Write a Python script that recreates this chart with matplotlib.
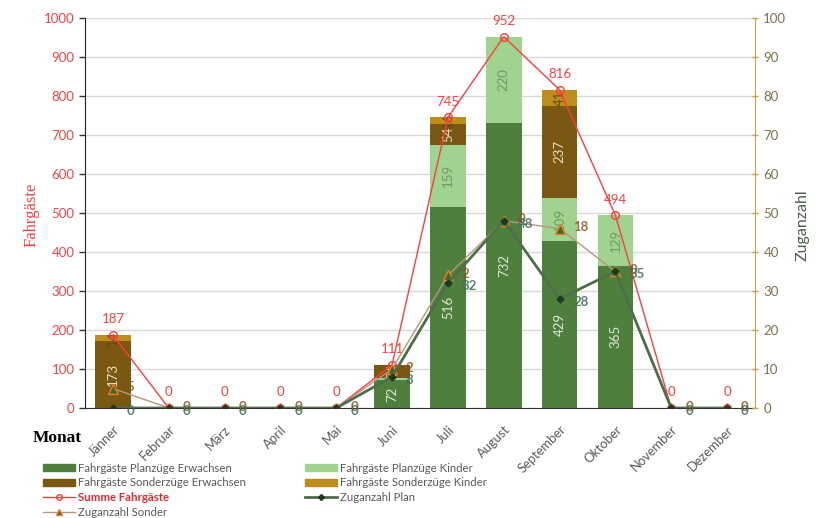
import numpy as np
import matplotlib
matplotlib.use("Agg")
import matplotlib.pyplot as plt
from matplotlib.patches import Patch
from matplotlib.lines import Line2D

monate = ["Jänner", "Februar", "März", "April", "Mai", "Juni", "Juli",
          "August", "September", "Oktober", "November", "Dezember"]

plan_erw = [0, 0, 0, 0, 0, 72, 516, 732, 429, 365, 0, 0]
plan_kind = [0, 0, 0, 0, 0, 5, 159, 220, 109, 129, 0, 0]
sonder_erw = [173, 0, 0, 0, 0, 34, 54, 0, 237, 0, 0, 0]
sonder_kind = [14, 0, 0, 0, 0, 0, 16, 0, 41, 0, 0, 0]
summe = [187, 0, 0, 0, 0, 111, 745, 952, 816, 494, 0, 0]

zug_plan = [0, 0, 0, 0, 0, 8, 32, 48, 28, 35, 0, 0]
zug_sonder = [5, 0, 0, 0, 0, 2, 2, 0, 18, 0, 0, 0]

plt.rcParams['font.family'] = ['Lato', 'DejaVu Sans']

c_pe = "#4f7f3c"
c_pk = "#9fd38f"
c_se = "#7a5812"
c_sk = "#bf8d1e"
c_sum = "#ff3c3c"
c_zp = "#4e6e4a"
c_zs = "#b89580"
grau = "#595959"

fig = plt.figure(figsize=(8.21, 5.18), dpi=100)
ax = fig.add_axes([85/821, 1-408/518, 670/821, 390/518])
ax2 = ax.twinx()

x = np.arange(len(monate))
w = 0.64

segmente = [
    (plan_erw, c_pe, "#dfe9d8", "Fahrgäste Planzüge Erwachsen"),
    (plan_kind, c_pk, "#6f9a62", "Fahrgäste Planzüge Kinder"),
    (sonder_erw, c_se, "#eadfc4", "Fahrgäste Sonderzüge Erwachsen"),
    (sonder_kind, c_sk, "#6b4a10", "Fahrgäste Sonderzüge Kinder"),
]
unten = np.zeros(len(monate))
for werte, farbe, tfarbe, name in segmente:
    werte = np.array(werte, dtype=float)
    ax.bar(x, werte, w, bottom=unten, color=farbe, zorder=2)
    for i, v in enumerate(werte):
        if v >= 10:
            ax.text(x[i], unten[i] + v / 2, f"{int(v)}", rotation=90,
                    ha="center", va="center", color=tfarbe, fontsize=9.5, zorder=3)
    unten += werte

ax.plot(x, summe, color=c_sum, lw=1, marker="o", ms=5.5, mfc="none",
        mec=c_sum, mew=1, zorder=4)
for i, v in enumerate(summe):
    ax.annotate(f"{v}", (x[i], v), xytext=(0, 7), textcoords="offset points",
                ha="center", va="bottom", color=c_sum, fontsize=9.5)

# Zuganzahl Sonder als gestapelte Linie über Zuganzahl Plan
zs_stapel = np.array(zug_plan) + np.array(zug_sonder)
ax2.plot(x, zs_stapel, color=c_zs, lw=1, marker="^", ms=7, mfc="#3d6b2c",
         mec="#f07a2a", mew=1, zorder=3)
ax2.plot(x, zug_plan, color=c_zp, lw=2, marker="D", ms=3.5, mfc="#1e3a1e",
         mec="#1e3a1e", zorder=4)
for i in range(len(monate)):
    ax2.annotate(f"{zug_sonder[i]}", (x[i], zs_stapel[i]), xytext=(10, 1),
                 textcoords="offset points", ha="left", va="center",
                 color="#8a5320", fontsize=9.5, fontweight="bold", alpha=0.85)
    ax2.annotate(f"{zug_plan[i]}", (x[i], zug_plan[i]), xytext=(10, -2),
                 textcoords="offset points", ha="left", va="center",
                 color="#3c6a5c", fontsize=9.5, fontweight="bold", alpha=0.85)

ax.set_xlim(-0.5, len(monate) - 0.5)
ax.set_ylim(0, 1000)
ax2.set_ylim(0, 100)
ax.set_yticks(np.arange(0, 1001, 100))
ax2.set_yticks(np.arange(0, 101, 10))
ax.grid(axis="y", color="#d9d9d9", lw=1, zorder=0)
ax.set_axisbelow(True)

ax.set_xticks(x)
ax.set_xticklabels(monate, rotation=45, ha="right", rotation_mode="anchor",
                   color=grau, fontsize=9.3)
ax.tick_params(axis="x", length=0, pad=11)
ax.tick_params(axis="y", colors="#333333", labelcolor="#f04545",
               labelsize=9.5, length=4, width=1)
ax2.tick_params(axis="y", colors="#c9a24a", labelcolor="#7d6f4e",
                labelsize=9.5, length=5, direction="inout", width=1)

for a in (ax, ax2):
    a.spines["top"].set_visible(False)
ax.spines["left"].set_color("#222222")
ax.spines["bottom"].set_color("#333333")
ax.spines["right"].set_visible(False)
ax2.spines["left"].set_visible(False)
ax2.spines["bottom"].set_visible(False)
ax2.spines["right"].set_color("#c9a24a")

fig.text(32/821, 1-215/518, "Fahrgäste", rotation=90, ha="center",
         va="center", color="#f04040", fontsize=12, family="Liberation Serif")
fig.text(803/821, 1-225/518, "Zuganzahl", rotation=90, ha="center",
         va="center", color="#4c5c4a", fontsize=11.5)
fig.text(33/821, 1-438/518, "Monat", ha="left", va="center",
         fontsize=12.5, fontweight="bold", family="Liberation Serif")

handles = [
    Patch(color=c_pe), Patch(color=c_se),
    Line2D([], [], color=c_sum, lw=1, marker="o", ms=4, mfc="none", mec=c_sum),
    Line2D([], [], color=c_zs, lw=1, marker="^", ms=4, mfc="#3d6b2c", mec="#f07a2a"),
    Patch(color=c_pk), Patch(color=c_sk),
    Line2D([], [], color=c_zp, lw=2, marker="D", ms=3, mfc="#1e3a1e", mec="#1e3a1e"),
]
labels = ["Fahrgäste Planzüge Erwachsen", "Fahrgäste Sonderzüge Erwachsen",
          "Summe Fahrgäste", "Zuganzahl Sonder",
          "Fahrgäste Planzüge Kinder", "Fahrgäste Sonderzüge Kinder",
          "Zuganzahl Plan"]
leg = fig.legend(handles, labels, loc="upper left", ncol=2, frameon=False,
                 bbox_to_anchor=(37/821, 1-457/518), fontsize=8.2,
                 handlelength=2.8, handleheight=0.55, handletextpad=0.3,
                 labelspacing=0.33, columnspacing=5.2, borderpad=0)
for t in leg.get_texts():
    t.set_color(grau)
leg.get_texts()[2].set_color("#e8282c")
leg.get_texts()[2].set_fontweight("bold")

fig.savefig("out.png", dpi=100)
